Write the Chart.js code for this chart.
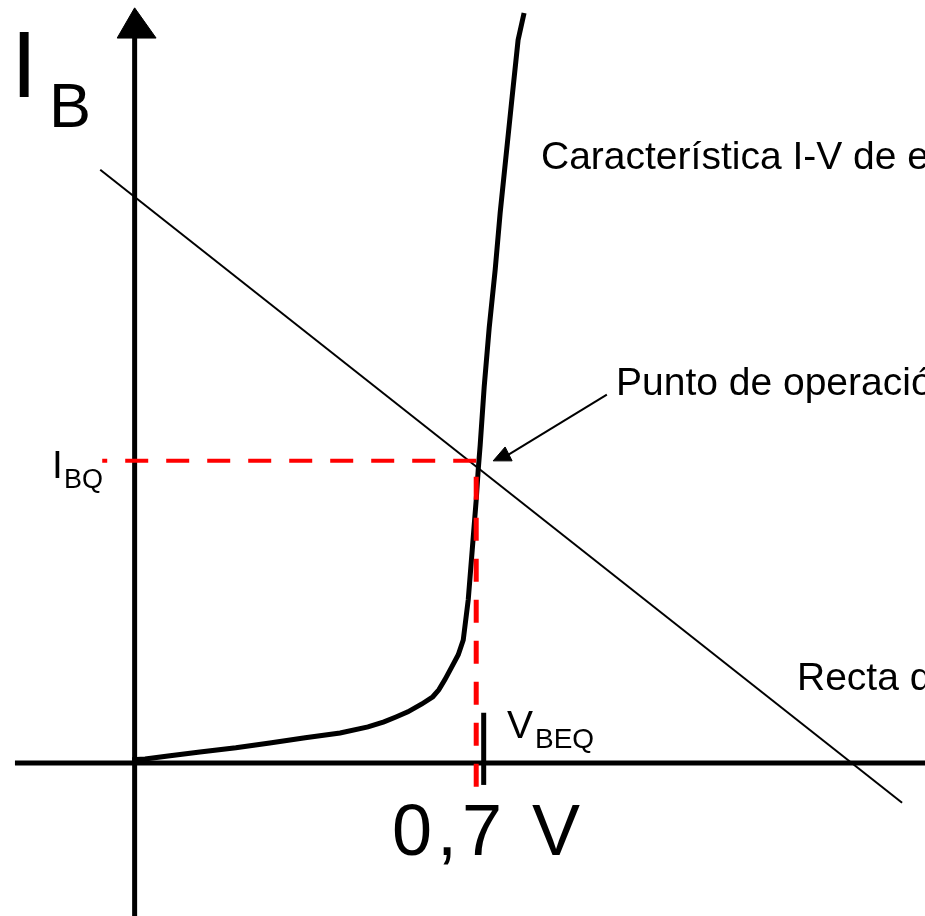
<!DOCTYPE html>
<html>
<head>
<meta charset="utf-8">
<script src="https://cdn.jsdelivr.net/npm/chart.js@4.4.1/dist/chart.umd.min.js"></script>
<style>
    html, body { margin: 0; padding: 0; background: #fff; overflow: hidden; }
</style>
</head>
<body>
<canvas id="myChart" width="925" height="916"></canvas>
<script>
// Diode input characteristic: V_BE (V) vs I_B (units of I_BQ)
const curveV = [-0.005, 0.021, 0.067, 0.131, 0.203, 0.271, 0.342, 0.412, 0.468, 0.500, 0.524, 0.548, 0.576,
                0.598, 0.610, 0.622, 0.636, 0.649, 0.659, 0.669, 0.677, 0.685, 0.689, 0.693, 0.701, 0.711,
                0.723, 0.733, 0.745, 0.757, 0.769, 0.781];
const curveI = [0.010, 0.013, 0.023, 0.036, 0.050, 0.066, 0.083, 0.099, 0.119, 0.136, 0.152, 0.169, 0.195,
                0.219, 0.242, 0.275, 0.318, 0.358, 0.407, 0.540, 0.705, 0.871, 0.970, 1.053, 1.245, 1.440,
                1.632, 1.821, 2.013, 2.205, 2.394, 2.483];

// Load line (recta de carga), two end points
const loadV = [-0.069, 1.539];
const loadI = [1.964, -0.132];

// Operating point Q
const qV = 0.685;
const qI = 1;

// axis ranges
const xRange = [-0.27, 1.585];
const yRange = [-0.507, 2.526];
const xAxisV = [-0.24, 1.585];
const yAxisI = [-0.507, 2.40];
const arrowTopV = [-0.035, 0, 0.043];
const arrowTopI = [2.40, 2.50, 2.40];

// 0,7 V tick
const tickV = 0.7;
const tickI = [-0.073, 0.166];
const tickLabels = ['0,7 V'];

// pointer from "Punto de operación" to Q
const pointerV = [0.947, 0.749];
const pointerI = [1.219, 1.020];
const pointerHeadV = [0.719, 0.743, 0.757, 0.719];
const pointerHeadI = [1.0, 1.046, 1.0, 1.0];

const labels = {
    curve: 'Característica I-V de entrada',
    q: 'Punto de operación',
    load: 'Recta de carga'
};

function pts(xs, ys) {
    return xs.map((x, i) => ({ x: x, y: ys[i] }));
}

const textPlugin = {
    id: 'texts',
    afterDraw(chart) {
        const ctx = chart.ctx;
        ctx.save();
        ctx.fillStyle = '#000';
        ctx.textBaseline = 'alphabetic';
        ctx.textAlign = 'left';

        // axis title I_B
        ctx.font = '95px "Liberation Sans"';
        ctx.fillText('I', 11, 97);
        ctx.font = '63px "Liberation Sans"';
        ctx.fillText('B', 49, 127);

        // I_BQ
        ctx.font = '39px "Liberation Sans"';
        ctx.fillText('I', 52, 478);
        ctx.font = '27px "Liberation Sans"';
        ctx.fillText('BQ', 64, 488);

        // V_BEQ
        ctx.font = '39px "Liberation Sans"';
        ctx.fillText('V', 507, 738);
        ctx.font = '28px "Liberation Sans"';
        ctx.fillText('BEQ', 535, 748);

        // annotations
        ctx.font = '39px "Liberation Sans"';
        ctx.fillText(labels.curve, 541, 169);
        ctx.fillText(labels.q, 616, 395);
        ctx.fillText(labels.load, 797, 690);

        // tick label
        ctx.font = '72px "Liberation Sans"';
        ctx.letterSpacing = '5px';
        ctx.fillText(tickLabels[0], 392, 855);
        ctx.restore();
    }
};

document.addEventListener("DOMContentLoaded", function() {
    const ctx = document.getElementById('myChart').getContext('2d');

    const line = (data, color, width, extra) => Object.assign({
        data: data,
        borderColor: color,
        backgroundColor: color,
        borderWidth: width,
        showLine: true,
        pointRadius: 0,
        tension: 0,
        fill: false
    }, extra || {});

    new Chart(ctx, {
        type: 'scatter',
        data: {
            datasets: [
                line([{ x: qV, y: qI }, { x: -0.065, y: qI }], '#ff0000', 4, { borderDash: [23, 18] }),
                line([{ x: qV, y: -0.079 }, { x: qV, y: qI }], '#ff0000', 5, { borderDash: [23, 18] }),
                line(pts(curveV, curveI), '#000', 5),
                line(pts(loadV, loadI), '#000', 2),
                line(pts(pointerV, pointerI), '#000', 2),
                line(pts(pointerHeadV, pointerHeadI), '#000', 1, { fill: 'shape' }),
                line([{ x: tickV, y: tickI[0] }, { x: tickV, y: tickI[1] }], '#000', 5),
                line([{ x: xAxisV[0], y: 0 }, { x: xAxisV[1], y: 0 }], '#000', 5),
                line([{ x: 0, y: yAxisI[0] }, { x: 0, y: yAxisI[1] }], '#000', 5),
                line(pts(arrowTopV.concat([arrowTopV[0]]), arrowTopI.concat([arrowTopI[0]])), '#000', 1, { fill: 'shape' })
            ]
        },
        options: {
            responsive: false,
            animation: false,
            layout: { padding: 0 },
            plugins: {
                legend: { display: false },
                tooltip: { enabled: false }
            },
            scales: {
                x: { type: 'linear', min: xRange[0], max: xRange[1], display: false },
                y: { type: 'linear', min: yRange[0], max: yRange[1], display: false }
            }
        },
        plugins: [textPlugin]
    });
});
</script>
</body>
</html>
